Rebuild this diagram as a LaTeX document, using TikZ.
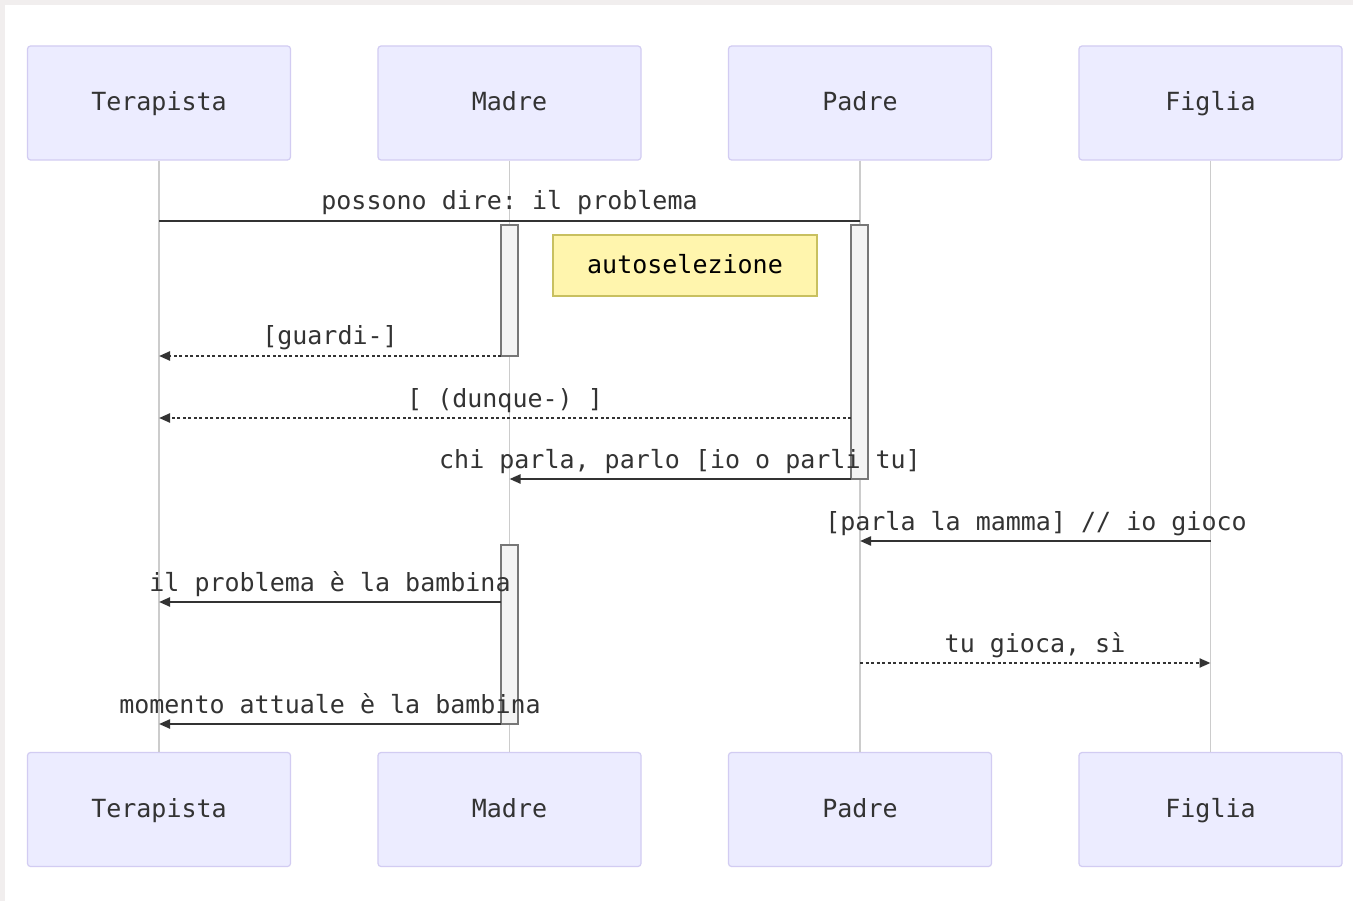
\documentclass[tikz,border=0pt]{standalone}
\usepackage{fontspec}
\setmonofont{DejaVu Sans Mono}
\usetikzlibrary{arrows.meta}
\definecolor{actfill}{HTML}{ECECFF}
\definecolor{actdraw}{HTML}{D2CCF2}
\definecolor{barfill}{HTML}{F4F4F4}
\definecolor{bardraw}{HTML}{777777}
\definecolor{notefill}{HTML}{FFF5AD}
\definecolor{notedraw}{HTML}{C8C060}
\definecolor{msg}{HTML}{333333}
\definecolor{life}{HTML}{CCCCCC}
\definecolor{strip}{HTML}{F1EEEE}
\tikzset{
  actor/.style={draw=actdraw, fill=actfill, line width=1.2pt, rounded corners=3pt,
    minimum width=263pt, minimum height=114pt, inner sep=0pt, text=msg,
    text height=20pt, text depth=4pt},
  lifeline/.style={draw=life, line width=1.2pt},
  actbar/.style={draw=bardraw, fill=barfill, line width=1.2pt, minimum width=17pt, inner sep=0pt},
  notebox/.style={draw=notedraw, fill=notefill, line width=1.2pt, minimum width=264pt,
    minimum height=61pt, inner sep=0pt, text=black, text height=20pt, text depth=4pt},
  msgline/.style={draw=msg, line width=2.2pt},
  call/.style={msgline, -{Triangle[length=11pt,width=9pt]}},
  reply/.style={msgline, dash pattern=on 3pt off 2.5pt, -{Triangle[length=11pt,width=9pt]}},
  lbl/.style={anchor=base, inner sep=0pt, text=msg}
}
\begin{document}
\begin{tikzpicture}[x=1pt,y=-1pt,font=\ttfamily\fontsize{25}{30}\selectfont]
\useasboundingbox (0,0) rectangle (1353,901);
\fill[white] (0,0) rectangle (1353,901);
\fill[strip] (0,0) rectangle (1353,5);
\fill[strip] (0,0) rectangle (5,901);

% actors
\node[actor] (tT) at (159,103) {Terapista};
\node[actor] (tM) at (509.5,103) {Madre};
\node[actor] (tP) at (860,103) {Padre};
\node[actor] (tF) at (1210.5,103) {Figlia};
\node[actor] (bT) at (159,809.5) {Terapista};
\node[actor] (bM) at (509.5,809.5) {Madre};
\node[actor] (bP) at (860,809.5) {Padre};
\node[actor] (bF) at (1210.5,809.5) {Figlia};

% lifelines
\draw[lifeline] (tT.south) -- (bT.north);
\draw[lifeline] (tM.south) -- (bM.north);
\draw[lifeline] (tP.south) -- (bP.north);
\draw[lifeline] (tF.south) -- (bF.north);

% activations
\node[actbar, minimum height=131pt] (aM1) at (509.5,290.5) {};
\node[actbar, minimum height=254pt] (aP) at (859.5,352) {};
\node[actbar, minimum height=179pt] (aM2) at (509.5,634.5) {};

% note
\node[notebox] (note) at (685,265.5) {autoselezione};

% message end points
\coordinate (m1a) at (159,221);   \coordinate (m1b) at (860,221);
\coordinate (m2a) at (501,356);   \coordinate (m2b) at (159,356);
\coordinate (m3a) at (851,418);   \coordinate (m3b) at (159,418);
\coordinate (m4a) at (851,479);   \coordinate (m4b) at (509.5,479);
\coordinate (m5a) at (1210.5,541);\coordinate (m5b) at (860,541);
\coordinate (m6a) at (501,602);   \coordinate (m6b) at (159,602);
\coordinate (m7a) at (860,663);   \coordinate (m7b) at (1210.5,663);
\coordinate (m8a) at (501,724);   \coordinate (m8b) at (159,724);

% messages
\draw[msgline] (m1a) -- (m1b);
\draw[reply] (m2a) -- (m2b);
\draw[reply] (m3a) -- (m3b);
\draw[call] (m4a) -- (m4b);
\draw[call] (m5a) -- (m5b);
\draw[call] (m6a) -- (m6b);
\draw[reply] (m7a) -- (m7b);
\draw[call] (m8a) -- (m8b);

% labels
\node[lbl] (l1) at (509.5,210) {possono dire: il problema};
\node[lbl] (l2) at (330,345) {[guardi-]};
\node[lbl] (l3) at (505,407) {[ (dunque-) ]};
\node[lbl] (l4) at (680,468) {chi parla, parlo [io o parli tu]};
\node[lbl] (l5) at (1036,530) {[parla la mamma] // io gioco};
\node[lbl] (l6) at (330,591) {il problema è la bambina};
\node[lbl] (l7) at (1035,652) {tu gioca, sì};
\node[lbl] (l8) at (330,713) {momento attuale è la bambina};
\end{tikzpicture}
\end{document}
